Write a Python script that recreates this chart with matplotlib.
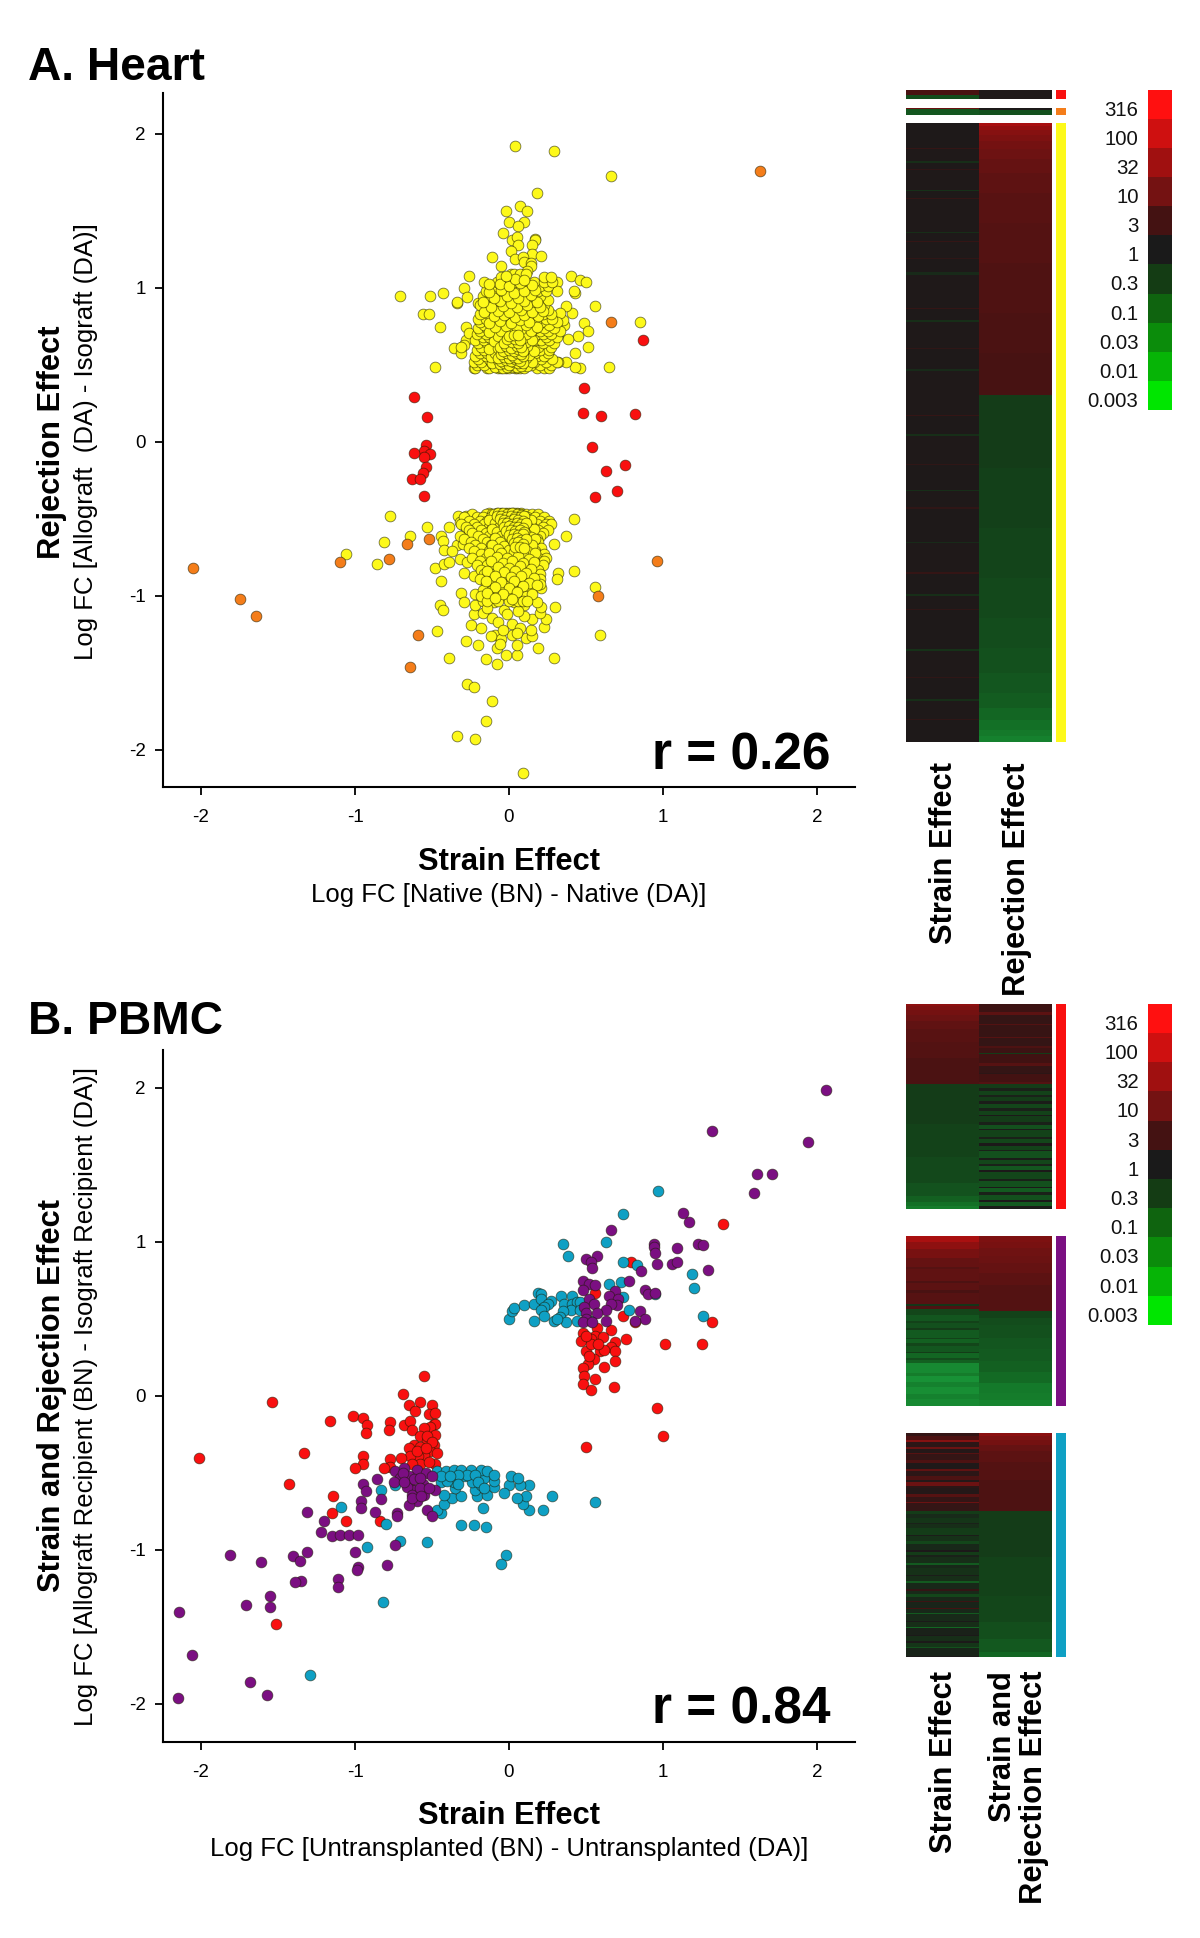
import numpy as np
import matplotlib
matplotlib.use("Agg")
import matplotlib.pyplot as plt
from matplotlib.colors import LinearSegmentedColormap, ListedColormap

plt.rcParams["font.family"] = ["Liberation Sans", "DejaVu Sans"]
plt.rcParams["axes.unicode_minus"] = False

W, H = 1200, 1938

# ---- heart scatter (log FC values)
heart_red = [(0.87, 0.66), (0.49, 0.35), (-0.62, 0.29), (-0.53, 0.16), (0.48, 0.19), (0.60, 0.17), (0.82, 0.18),
             (-0.54, -0.02), (-0.55, -0.06), (-0.51, -0.08), (-0.55, -0.10), (-0.62, -0.07), (-0.54, -0.16),
             (-0.56, -0.20), (-0.63, -0.24), (-0.58, -0.24), (-0.55, -0.35), (0.54, -0.03), (0.63, -0.19),
             (0.75, -0.15), (0.70, -0.32), (0.56, -0.36)]
heart_orange = [(1.63, 1.76), (0.66, 0.78), (-1.10, -0.78), (-0.78, -0.76), (-0.66, -0.66), (-0.52, -0.63),
                (0.96, -0.77), (0.58, -1.00), (-0.59, -1.25), (-0.64, -1.46), (-2.05, -0.82), (-1.75, -1.02),
                (-1.64, -1.13)]
heart_yellow_upper = [(0.04, 1.92), (0.29, 1.89), (0.66, 1.73), (0.18, 1.62), (-0.02, 1.50), (0.07, 1.53), (0.12, 1.50),
                      (0.0, 1.43), (0.10, 1.43), (0.06, 1.40), (-0.04, 1.36), (0.02, 1.31), (0.05, 1.33), (0.17, 1.32),
                      (0.17, 1.31), (0.06, 1.28), (0.15, 1.28), (0.01, 1.24), (0.15, 1.22), (0.21, 1.21), (-0.11, 1.20),
                      (0.04, 1.19), (0.09, 1.20), (0.10, 1.17), (-0.05, 1.14), (0.14, 1.16), (0.14, 1.14), (0.12, 1.11),
                      (-0.26, 1.08), (0.40, 1.08), (0.46, 1.05), (0.50, 1.04), (0.31, 1.04), (-0.71, 0.95), (-0.51, 0.95),
                      (-0.43, 0.97), (-0.29, 1.00), (-0.27, 0.94), (-0.34, 0.90), (-0.34, 0.91), (-0.20, 0.90),
                      (-0.56, 0.83), (-0.52, 0.83), (-0.45, 0.75), (-0.28, 0.75), (0.56, 0.88), (0.41, 0.84), (0.37, 0.88),
                      (0.31, 0.98), (0.43, 0.97), (0.42, 0.98), (0.49, 0.77), (0.51, 0.72), (0.45, 0.69), (0.38, 0.67),
                      (0.51, 0.62), (0.43, 0.58), (0.85, 0.78), (0.65, 0.49), (0.46, 0.48), (0.43, 0.49), (0.37, 0.52),
                      (0.32, 0.52), (-0.48, 0.49), (-0.36, 0.61), (-0.31, 0.58), (-0.28, 0.66), (-0.26, 0.71), (-0.23, 0.48),
                      (-0.29, 0.63), (-0.31, 0.62), (0.36, 0.76), (0.35, 0.79), (0.32, 0.70), (0.33, 0.84)]
heart_up_core = {
    0.48: [-0.22, -0.14, -0.13, -0.07, -0.05, -0.02, 0.0, 0.04, 0.05, 0.07, 0.10, 0.18, 0.23, 0.26],
    0.50: [-0.21, -0.16, -0.10, -0.06, -0.04, -0.01, 0.01, 0.03, 0.06, 0.08, 0.11, 0.14, 0.20, 0.27],
    0.52: [-0.23, -0.18, -0.12, -0.08, -0.03, -0.02, 0.0, 0.02, 0.04, 0.05, 0.09, 0.12, 0.16, 0.24, 0.31],
    0.54: [-0.20, -0.13, -0.09, -0.05, -0.03, 0.0, 0.01, 0.03, 0.05, 0.07, 0.10, 0.15, 0.21, 0.28],
    0.56: [-0.22, -0.15, -0.11, -0.06, -0.04, -0.02, 0.01, 0.02, 0.04, 0.06, 0.08, 0.12, 0.18, 0.23],
    0.58: [-0.19, -0.14, -0.08, -0.03, -0.01, 0.0, 0.03, 0.05, 0.07, 0.11, 0.14, 0.17, 0.25],
    0.60: [-0.21, -0.16, -0.10, -0.06, -0.02, 0.01, 0.02, 0.05, 0.08, 0.10, 0.13, 0.20, 0.26],
    0.62: [-0.18, -0.12, -0.07, -0.04, -0.01, 0.01, 0.04, 0.06, 0.09, 0.15, 0.19, 0.27],
    0.64: [-0.20, -0.14, -0.09, -0.05, -0.02, 0.0, 0.03, 0.05, 0.10, 0.14, 0.22, 0.29],
    0.66: [-0.22, -0.16, -0.11, -0.06, -0.03, 0.02, 0.04, 0.07, 0.12, 0.17, 0.21, 0.26],
    0.68: [-0.17, -0.13, -0.08, -0.01, 0.01, 0.05, 0.08, 0.11, 0.16, 0.24, 0.31],
    0.70: [-0.21, -0.15, -0.10, -0.04, 0.0, 0.03, 0.06, 0.09, 0.13, 0.18, 0.22, 0.27],
    0.72: [-0.19, -0.12, -0.07, -0.03, 0.02, 0.06, 0.10, 0.15, 0.20, 0.25, 0.33],
    0.74: [-0.20, -0.14, -0.09, -0.05, 0.0, 0.04, 0.08, 0.12, 0.17, 0.23, 0.29],
    0.76: [-0.16, -0.11, -0.06, -0.01, 0.03, 0.07, 0.13, 0.19, 0.26],
    0.78: [-0.19, -0.13, -0.08, -0.03, 0.01, 0.05, 0.10, 0.15, 0.21, 0.31],
    0.80: [-0.20, -0.15, -0.09, -0.04, 0.02, 0.08, 0.12, 0.18, 0.24, 0.28],
    0.83: [-0.19, -0.13, -0.07, -0.02, 0.03, 0.06, 0.11, 0.16, 0.22, 0.27],
    0.86: [-0.16, -0.11, -0.05, 0.01, 0.05, 0.09, 0.14, 0.19, 0.25],
    0.89: [-0.19, -0.08, -0.03, 0.03, 0.08, 0.13, 0.17, 0.23],
    0.92: [-0.14, -0.09, -0.02, 0.03, 0.07, 0.14, 0.21, 0.25],
    0.95: [-0.17, -0.12, -0.05, 0.01, 0.09, 0.16, 0.20],
    0.98: [-0.15, -0.08, -0.02, 0.04, 0.08, 0.11, 0.19, 0.24],
    1.01: [-0.09, -0.04, 0.02, 0.06, 0.13, 0.20, 0.25],
    1.04: [-0.16, -0.08, -0.01, 0.03, 0.08, 0.16, 0.23, 0.28],
    1.07: [-0.05, 0.0, 0.03, 0.09, 0.23, 0.27],
    1.09: [0.01, 0.03, 0.07, 0.11],
}
# second pass over the crowded part of the upper lobe
heart_up_dense = [(-0.09, 0.49), (-0.03, 0.495), (0.02, 0.487), (0.07, 0.505), (0.12, 0.492), (-0.11, 0.515), (-0.04, 0.525),
                  (0.03, 0.513), (0.08, 0.53), (0.15, 0.517), (-0.07, 0.535), (-0.01, 0.545), (0.05, 0.527), (0.11, 0.548),
                  (-0.12, 0.553), (-0.05, 0.567), (0.02, 0.557), (0.06, 0.572), (0.13, 0.563), (-0.09, 0.577), (-0.02, 0.585),
                  (0.04, 0.591), (0.09, 0.583), (0.16, 0.594), (-0.13, 0.605), (-0.07, 0.612), (0.0, 0.603), (0.03, 0.618),
                  (0.07, 0.607), (0.12, 0.622), (-0.03, 0.633), (0.01, 0.645), (0.06, 0.637), (0.11, 0.651), (-0.1, 0.657),
                  (-0.04, 0.668), (0.03, 0.662), (0.09, 0.675), (0.15, 0.664), (-0.07, 0.687), (-0.01, 0.695), (0.05, 0.684),
                  (0.11, 0.703), (-0.13, 0.712), (-0.05, 0.723), (0.02, 0.714), (0.08, 0.731), (0.14, 0.718), (-0.09, 0.745),
                  (-0.02, 0.752), (0.05, 0.742), (0.11, 0.758), (0.18, 0.747), (-0.13, 0.772), (-0.06, 0.785), (0.01, 0.775),
                  (0.07, 0.792), (0.13, 0.781), (-0.1, 0.815), (-0.03, 0.822), (0.04, 0.812), (0.1, 0.827), (0.19, 0.818),
                  (-0.16, 0.845), (-0.07, 0.853), (0.0, 0.842), (0.08, 0.858), (0.15, 0.847), (0.22, 0.852), (-0.12, 0.878),
                  (-0.04, 0.884), (0.05, 0.875), (0.12, 0.889), (0.2, 0.874), (-0.17, 0.908), (-0.06, 0.915), (0.01, 0.905),
                  (0.1, 0.918), (0.18, 0.911), (-0.1, 0.938), (-0.01, 0.947), (0.06, 0.935), (0.14, 0.953), (-0.13, 0.972),
                  (-0.05, 0.985), (0.03, 0.966), (0.1, 0.978), (0.17, 0.989), (-0.06, 1.023), (0.0, 1.015), (0.07, 1.031),
                  (0.15, 1.022), (-0.13, 1.025), (0.04, 1.06), (0.1, 1.055), (-0.02, 1.075)]
# the darkest streak, where the outlines pile up
heart_up_dark = [(-0.04, 0.483), (-0.01, 0.49), (0.02, 0.497), (0.05, 0.486), (0.08, 0.493), (-0.06, 0.507), (-0.03, 0.512),
                 (0.0, 0.503), (0.03, 0.518), (0.06, 0.51), (0.09, 0.516), (-0.05, 0.528), (-0.02, 0.532), (0.01, 0.524),
                 (0.04, 0.536), (0.07, 0.529), (-0.07, 0.548), (-0.03, 0.552), (0.0, 0.544), (0.03, 0.555), (0.06, 0.547),
                 (0.09, 0.558), (-0.05, 0.572), (-0.01, 0.576), (0.02, 0.568), (0.05, 0.579), (0.08, 0.571), (-0.04, 0.594),
                 (0.0, 0.598), (0.03, 0.589), (0.06, 0.601), (0.09, 0.593), (-0.06, 0.618), (-0.02, 0.622), (0.01, 0.613),
                 (0.05, 0.626), (0.08, 0.617), (-0.03, 0.645), (0.02, 0.649), (0.06, 0.642), (-0.01, 0.667), (0.04, 0.671),
                 (0.07, 0.663), (0.0, 0.69), (0.03, 0.698), (0.06, 0.693)]
heart_yellow_lower = [(-0.77, -0.48), (-1.06, -0.73), (-0.81, -0.65), (-0.64, -0.61), (-0.86, -0.79), (-0.53, -0.55),
                      (-0.39, -0.55), (-0.44, -0.61), (-0.43, -0.64), (-0.42, -0.70), (-0.48, -0.82), (-0.42, -0.79),
                      (-0.39, -0.78), (-0.44, -0.90), (-0.45, -1.06), (-0.43, -1.09), (-0.47, -1.23), (-0.31, -0.98),
                      (-0.29, -1.04), (-0.28, -1.29), (-0.20, -1.32), (-0.39, -1.40), (-0.15, -1.41), (-0.08, -1.44),
                      (-0.02, -1.38), (0.05, -1.38), (-0.08, -1.34), (0.05, -1.32), (0.19, -1.34), (0.29, -1.40),
                      (0.59, -1.25), (0.56, -0.94), (0.42, -0.84), (0.32, -0.85), (0.31, -0.89), (0.21, -0.95),
                      (0.30, -1.07), (0.42, -0.50), (0.37, -0.61), (0.29, -0.66), (-0.27, -1.57), (-0.23, -1.59),
                      (-0.11, -1.68), (-0.15, -1.81), (-0.34, -1.91), (-0.22, -1.93), (0.09, -2.15), (0.11, -1.27),
                      (0.15, -1.26), (0.14, -1.22), (0.23, -1.20), (0.24, -1.15), (0.15, -1.15), (0.10, -1.13),
                      (0.20, -1.11), (0.21, -1.07), (0.10, -1.06), (-0.25, -1.19), (-0.18, -1.21), (-0.23, -1.12),
                      (-0.22, -1.06), (-0.22, -0.99), (-0.17, -1.11), (-0.11, -1.14), (-0.07, -1.17), (0.02, -1.18),
                      (-0.09, -1.25), (-0.05, -1.28), (0.02, -1.25), (0.07, -1.21), (0.05, -1.24), (-0.04, -1.22),
                      (-0.03, -1.09), (0.03, -1.04), (-0.10, -1.04), (-0.17, -1.03), (-0.29, -0.85), (-0.23, -0.87),
                      (-0.32, -0.76), (-0.27, -0.78), (-0.34, -0.67), (-0.30, -0.66), (-0.37, -0.71), (-0.33, -0.48),
                      (-0.32, -0.52), (-0.28, -0.48), (-0.30, -0.54), (-0.26, -0.59), (-0.14, -1.08), (-0.01, -1.12),
                      (0.06, -1.10), (0.13, -1.01), (0.18, -1.04), (-0.12, -1.26), (-0.06, -1.31)]
heart_low_core = {
    -0.46: [-0.13, -0.08, -0.05, -0.02, 0.0, 0.02, 0.05, 0.08],
    -0.47: [-0.24, -0.15, -0.11, -0.06, -0.03, 0.01, 0.04, 0.07, 0.11, 0.15, 0.19],
    -0.49: [-0.29, -0.21, -0.17, -0.12, -0.08, -0.04, -0.01, 0.02, 0.04, 0.06, 0.09, 0.12, 0.17, 0.23],
    -0.51: [-0.26, -0.19, -0.14, -0.09, -0.06, -0.03, 0.0, 0.03, 0.05, 0.08, 0.10, 0.14, 0.20, 0.26],
    -0.53: [-0.31, -0.23, -0.16, -0.11, -0.07, -0.04, -0.01, 0.01, 0.04, 0.06, 0.09, 0.13, 0.18, 0.24, 0.27],
    -0.55: [-0.28, -0.21, -0.13, -0.08, -0.05, -0.02, 0.0, 0.03, 0.05, 0.07, 0.11, 0.15, 0.22],
    -0.57: [-0.26, -0.18, -0.12, -0.09, -0.06, -0.03, 0.01, 0.02, 0.04, 0.07, 0.10, 0.13, 0.19, 0.25],
    -0.59: [-0.24, -0.15, -0.10, -0.07, -0.04, -0.01, 0.01, 0.03, 0.06, 0.08, 0.12, 0.16, 0.22],
    -0.61: [-0.32, -0.20, -0.13, -0.08, -0.05, -0.02, 0.0, 0.03, 0.05, 0.08, 0.11, 0.15, 0.20],
    -0.63: [-0.29, -0.17, -0.10, -0.07, -0.03, 0.0, 0.02, 0.05, 0.07, 0.10, 0.14, 0.18],
    -0.65: [-0.25, -0.14, -0.09, -0.05, -0.02, 0.01, 0.04, 0.06, 0.09, 0.13, 0.19],
    -0.67: [-0.22, -0.12, -0.07, -0.04, 0.0, 0.03, 0.05, 0.08, 0.11, 0.16],
    -0.69: [-0.26, -0.18, -0.09, -0.06, -0.01, 0.02, 0.05, 0.09, 0.13, 0.21],
    -0.71: [-0.23, -0.13, -0.08, -0.03, 0.01, 0.04, 0.07, 0.11, 0.17],
    -0.73: [-0.18, -0.10, -0.06, -0.01, 0.03, 0.06, 0.10, 0.15, 0.23],
    -0.75: [-0.24, -0.15, -0.08, -0.03, 0.02, 0.05, 0.08, 0.13, 0.19, 0.24],
    -0.77: [-0.19, -0.11, -0.05, 0.0, 0.04, 0.07, 0.11, 0.16, 0.23],
    -0.80: [-0.21, -0.14, -0.08, -0.02, 0.03, 0.06, 0.10, 0.17, 0.22],
    -0.83: [-0.18, -0.11, -0.05, 0.0, 0.05, 0.09, 0.14, 0.19],
    -0.86: [-0.16, -0.12, -0.07, -0.02, 0.04, 0.08, 0.13, 0.20],
    -0.89: [-0.19, -0.13, -0.08, -0.03, 0.02, 0.07, 0.12, 0.17, 0.20],
    -0.92: [-0.15, -0.09, -0.04, 0.01, 0.05, 0.10, 0.15, 0.20],
    -0.96: [-0.17, -0.11, -0.06, 0.0, 0.03, 0.08, 0.13],
    -1.00: [-0.18, -0.13, -0.07, -0.02, 0.02, 0.06, 0.11],
    -1.03: [-0.14, -0.07, 0.0, 0.06, 0.09],
}
# second pass over the crowded part of the lower lobe
heart_low_dense = [(-0.1, -0.465), (-0.04, -0.472), (0.03, -0.463), (0.09, -0.478), (-0.07, -0.485), (0.0, -0.495), (0.05, -0.483),
                   (0.12, -0.497), (-0.13, -0.505), (-0.05, -0.513), (0.02, -0.505), (0.07, -0.521), (0.14, -0.507),
                   (-0.09, -0.527), (-0.02, -0.535), (0.04, -0.522), (0.11, -0.538), (-0.06, -0.547), (0.01, -0.558),
                   (0.06, -0.543), (0.13, -0.556), (-0.11, -0.565), (-0.03, -0.573), (0.03, -0.565), (0.09, -0.578),
                   (0.16, -0.568), (-0.08, -0.587), (-0.01, -0.595), (0.05, -0.584), (0.11, -0.597), (-0.05, -0.608),
                   (0.02, -0.615), (0.07, -0.603), (0.14, -0.617), (-0.09, -0.625), (-0.02, -0.633), (0.04, -0.626),
                   (0.09, -0.638), (0.17, -0.628), (-0.06, -0.647), (0.01, -0.655), (0.06, -0.644), (0.12, -0.657),
                   (-0.11, -0.668), (-0.03, -0.675), (0.03, -0.664), (0.09, -0.682), (0.15, -0.672), (-0.07, -0.695),
                   (0.0, -0.703), (0.07, -0.692), (0.12, -0.708), (-0.13, -0.718), (-0.05, -0.724), (0.03, -0.715),
                   (0.09, -0.732), (0.17, -0.722), (-0.08, -0.745), (-0.01, -0.754), (0.06, -0.743), (0.13, -0.758),
                   (-0.12, -0.775), (-0.04, -0.783), (0.02, -0.772), (0.09, -0.788), (0.16, -0.778), (-0.07, -0.812),
                   (0.0, -0.818), (0.07, -0.808), (0.14, -0.822), (-0.14, -0.838), (-0.03, -0.846), (0.04, -0.835),
                   (0.11, -0.851), (-0.09, -0.872), (0.01, -0.878), (0.08, -0.867), (0.16, -0.882), (-0.15, -0.905),
                   (-0.05, -0.912), (0.03, -0.902), (0.13, -0.916), (-0.09, -0.942), (0.0, -0.951), (0.09, -0.938),
                   (0.18, -0.93), (-0.14, -0.978), (-0.04, -0.985), (0.05, -0.972), (0.15, -0.99), (-0.09, -1.015),
                   (0.02, -1.02), (0.12, -1.03)]
heart_low_dark = [(-0.07, -0.458), (-0.04, -0.463), (-0.01, -0.468), (0.02, -0.46), (0.05, -0.466), (0.08, -0.472), (-0.08, -0.478),
                  (-0.05, -0.483), (-0.02, -0.488), (0.01, -0.48), (0.04, -0.486), (0.07, -0.49), (0.1, -0.483), (-0.06, -0.503),
                  (-0.03, -0.507), (0.0, -0.51), (0.03, -0.502), (0.06, -0.508), (0.09, -0.512), (-0.04, -0.527), (-0.01, -0.523),
                  (0.02, -0.53), (0.05, -0.525), (0.08, -0.532), (0.11, -0.526), (-0.03, -0.552), (0.0, -0.546), (0.03, -0.555),
                  (0.06, -0.549), (0.09, -0.556), (-0.02, -0.578), (0.01, -0.572), (0.04, -0.58), (0.07, -0.574), (0.1, -0.582),
                  (0.0, -0.605), (0.03, -0.598), (0.06, -0.607), (0.09, -0.6), (0.02, -0.632), (0.05, -0.625), (0.08, -0.635),
                  (0.11, -0.628), (0.03, -0.658), (0.06, -0.652), (0.09, -0.66), (0.04, -0.685), (0.07, -0.679), (0.1, -0.69)]

# ---- PBMC scatter
pbmc_red = [(1.39, 1.12), (0.79, 0.87), (0.56, 0.67), (0.74, 0.52), (0.82, 0.48), (1.32, 0.48), (1.01, 0.34), (1.25, 0.34),
            (0.76, 0.37), (0.66, 0.43), (0.57, 0.44), (0.48, 0.41), (0.47, 0.36), (0.56, 0.39), (0.61, 0.38), (0.53, 0.37),
            (0.69, 0.35), (0.66, 0.32), (0.50, 0.29), (0.69, 0.29), (0.59, 0.29), (0.62, 0.30), (0.55, 0.24), (0.69, 0.23),
            (0.51, 0.21), (0.48, 0.18), (0.62, 0.19), (0.49, 0.13), (0.56, 0.11), (0.48, 0.08), (0.53, 0.04), (0.68, 0.06),
            (0.53, 0.34), (0.58, 0.34), (0.50, 0.39), (0.52, 0.26), (0.50, -0.33), (0.96, -0.08), (1.00, -0.26),
            (-0.55, 0.13), (-1.54, -0.04), (-0.69, 0.01), (-0.65, -0.06), (-0.58, -0.04), (-0.50, -0.06), (-0.61, -0.10),
            (-0.52, -0.12), (-0.48, -0.11), (-1.01, -0.13), (-0.95, -0.14), (-0.92, -0.19), (-0.93, -0.24), (-1.16, -0.16),
            (-0.77, -0.17), (-0.78, -0.22), (-0.68, -0.19), (-0.64, -0.16), (-0.63, -0.22), (-0.49, -0.18), (-0.48, -0.18),
            (-0.51, -0.20), (-0.55, -0.21), (-0.48, -0.25), (-0.58, -0.26), (-0.53, -0.29), (-0.49, -0.32), (-0.62, -0.32),
            (-0.65, -0.34), (-0.58, -0.33), (-0.51, -0.36), (-0.55, -0.38), (-0.59, -0.39), (-0.64, -0.39), (-0.70, -0.40),
            (-0.77, -0.41), (-0.48, -0.44), (-0.58, -0.44), (-0.52, -0.43), (-0.63, -0.44), (-0.77, -0.46), (-0.81, -0.47),
            (-2.01, -0.40), (-1.33, -0.37), (-0.95, -0.39), (-0.95, -0.44), (-1.00, -0.47), (-1.43, -0.57), (-1.14, -0.65),
            (-1.15, -0.76), (-1.06, -0.81), (-0.84, -0.81), (-1.51, -1.48), (-0.53, -0.26), (-0.60, -0.36), (-0.50, -0.30),
            (-0.54, -0.34), (-0.47, -0.37)]
pbmc_teal = [(0.97, 1.33), (0.74, 1.18), (0.35, 0.99), (0.63, 1.00), (0.38, 0.91), (0.74, 0.87), (0.83, 0.85), (1.19, 0.79),
             (1.20, 0.70), (1.26, 0.52), (0.65, 0.73), (0.73, 0.74), (0.74, 0.64), (0.78, 0.56), (0.95, 0.66), (0.00, 0.50),
             (0.02, 0.55), (0.03, 0.57), (0.10, 0.59), (0.16, 0.60), (0.16, 0.49), (0.19, 0.67), (0.21, 0.66), (0.21, 0.63),
             (0.27, 0.62), (0.25, 0.60), (0.23, 0.58), (0.21, 0.56), (0.23, 0.52), (0.29, 0.49), (0.34, 0.65), (0.41, 0.65),
             (0.36, 0.60), (0.41, 0.60), (0.44, 0.61), (0.40, 0.56), (0.35, 0.55), (0.33, 0.51), (0.37, 0.48), (0.44, 0.49),
             (0.46, 0.61), (0.53, 0.49), (0.46, 0.56), (0.31, 0.50),
             (-0.83, -0.61), (-0.74, -0.58), (-1.09, -0.72), (-0.80, -0.83), (-0.71, -0.94), (-0.92, -0.98), (-0.53, -0.95),
             (-0.82, -1.34), (-1.29, -1.81), (-0.31, -0.84), (-0.23, -0.84), (-0.15, -0.85), (-0.02, -1.03), (-0.05, -1.09),
             (0.56, -0.69), (0.28, -0.65), (0.22, -0.74), (0.13, -0.74), (0.09, -0.70), (0.11, -0.65), (0.05, -0.66),
             (0.13, -0.58), (0.07, -0.58), (0.00, -0.58), (-0.03, -0.63), (0.01, -0.52), (0.06, -0.53), (-0.17, -0.73),
             (-0.44, -0.76), (-0.47, -0.74), (-0.42, -0.70), (-0.37, -0.66), (-0.31, -0.65), (-0.21, -0.65), (-0.14, -0.64),
             (-0.10, -0.59), (-0.42, -0.64), (-0.35, -0.60), (-0.22, -0.61), (-0.18, -0.58), (-0.24, -0.56), (-0.44, -0.56),
             (-0.36, -0.56), (-0.29, -0.52), (-0.10, -0.55), (-0.16, -0.53), (-0.40, -0.55), (-0.47, -0.49), (-0.41, -0.49),
             (-0.36, -0.48), (-0.31, -0.48), (-0.25, -0.48), (-0.18, -0.48), (-0.14, -0.49), (-0.10, -0.51), (-0.27, -0.51),
             (-0.33, -0.51), (-0.44, -0.52), (-0.38, -0.52), (-0.22, -0.51), (-0.20, -0.56), (-0.33, -0.57), (-0.16, -0.60)]
pbmc_purple = [(2.06, 1.99), (1.32, 1.72), (1.94, 1.65), (1.61, 1.44), (1.71, 1.44), (1.59, 1.32), (1.13, 1.19), (1.17, 1.13),
               (0.66, 1.08), (0.94, 0.99), (0.94, 0.97), (0.95, 0.93), (1.09, 0.96), (1.23, 0.99), (1.26, 0.98), (0.96, 0.86),
               (1.06, 0.86), (1.09, 0.87), (1.29, 0.82), (0.50, 0.89), (0.57, 0.91), (0.53, 0.87), (0.54, 0.83), (0.86, 0.81),
               (0.78, 0.75), (0.48, 0.75), (0.52, 0.73), (0.56, 0.72), (0.48, 0.69), (0.88, 0.69), (0.90, 0.66), (0.95, 0.67),
               (0.69, 0.68), (0.65, 0.65), (0.52, 0.63), (0.71, 0.63), (0.55, 0.60), (0.70, 0.59), (0.66, 0.60), (0.49, 0.58),
               (0.63, 0.56), (0.50, 0.54), (0.57, 0.54), (0.85, 0.55), (0.50, 0.50), (0.63, 0.49), (0.48, 0.48), (0.88, 0.50),
               (0.82, 0.49), (0.54, 0.48),
               (-0.74, -0.49), (-0.68, -0.47), (-0.60, -0.48), (-0.54, -0.50), (-0.50, -0.52), (-0.71, -0.53), (-0.65, -0.52),
               (-0.75, -0.56), (-0.86, -0.54), (-0.95, -0.57), (-0.93, -0.62), (-0.65, -0.58), (-0.56, -0.57), (-0.61, -0.61),
               (-0.66, -0.59), (-0.48, -0.61), (-0.55, -0.64), (-0.63, -0.64), (-0.83, -0.67), (-0.96, -0.68), (-0.60, -0.68),
               (-0.65, -0.71), (-0.96, -0.73), (-0.87, -0.75), (-1.31, -0.75), (-0.73, -0.76), (-0.73, -0.78), (-0.53, -0.74),
               (-0.50, -0.78), (-1.20, -0.81), (-1.22, -0.88), (-1.15, -0.91), (-1.10, -0.90), (-1.04, -0.90), (-0.98, -0.90),
               (-0.74, -0.97), (-1.00, -1.01), (-1.31, -1.01), (-1.81, -1.03), (-1.40, -1.04), (-1.36, -1.07), (-1.61, -1.08),
               (-0.98, -1.11), (-0.99, -1.13), (-0.79, -1.10), (-1.11, -1.19), (-1.35, -1.20), (-1.39, -1.21), (-1.11, -1.24),
               (-1.55, -1.30), (-1.71, -1.36), (-1.55, -1.37), (-2.14, -1.40), (-2.06, -1.68), (-1.68, -1.86), (-1.57, -1.94),
               (-2.15, -1.96), (-0.69, -0.50), (-0.62, -0.54), (-0.58, -0.53), (-0.68, -0.56), (-0.58, -0.60), (-0.52, -0.60),
               (-0.63, -0.66), (-0.57, -0.65)]

# ---- heatmaps: (row count, log10 FC) per column, top row first
cbar_labels = ["316", "100", "32", "10", "3", "1", "0.3", "0.1", "0.03", "0.01", "0.003"]
cbar_levels = [2.5, 2.0, 1.5, 1.0, 0.5, 0.0, -0.5, -1.0, -1.5, -2.0, -2.5]
cbar_colors = ["#ff1010", "#cf1010", "#a01010", "#741212", "#441212", "#1a1a1a",
               "#143c14", "#0f640f", "#0b8c0b", "#06b406", "#00e600"]
# the green side of the heatmaps themselves runs a little bluer than the key
heat_colors = ["#ff1010", "#cf1010", "#a01010", "#741212", "#441212", "#1c1a1a",
               "#143c18", "#137026", "#1a9a3a", "#10b830", "#00e600"]

heart_red_s = ([5, 4], [0.55, -0.65])
heart_red_r = ([9], [0.05])
heart_orange_s = ([1, 6], [0.9, -0.75])
heart_orange_r = ([2, 5], [0.0, -0.7])
heart_yellow_s = ([22, 1, 11, 2, 5, 1, 18, 1, 6, 1, 30, 1, 7, 1, 14, 1, 12, 2, 30, 1, 10, 1, 24, 1, 18, 1, 40, 1, 16, 2, 25,
                   1, 22, 1, 14, 2, 30, 1, 26, 1, 18, 2, 12, 1, 35, 1, 24, 1, 18, 2, 16, 1, 20],
                  [0.03, 0.3, 0.04, -0.3, 0.03, 0.25, 0.04, -0.35, 0.03, 0.3, 0.04, -0.3, 0.03, 0.3, 0.04, 0.25, 0.03, -0.25,
                   0.04, 0.3, 0.03, -0.3, 0.04, 0.25, 0.03, -0.25, 0.04, 0.3, 0.03, -0.3, 0.04, 0.25, 0.03, -0.3, 0.04, 0.25,
                   0.03, -0.25, 0.04, 0.3, 0.03, -0.3, 0.04, 0.25, 0.03, -0.35, 0.04, 0.25, 0.03, -0.3, 0.04, 0.25, 0.03])
heart_yellow_r = ([3, 4, 5, 6, 8, 10, 14, 20, 30, 40, 50, 40, 42, 72, 60, 50, 40, 30, 25, 20, 15, 12, 10, 6, 6],
                  [1.6, 1.4, 1.2, 1.1, 1.0, 0.92, 0.85, 0.78, 0.72, 0.67, 0.62, 0.58, 0.54,
                   -0.5, -0.54, -0.58, -0.62, -0.66, -0.7, -0.75, -0.82, -0.9, -1.0, -1.1, -1.2])

pbmc_a_s = ([2, 3, 4, 5, 6, 10, 12, 20, 30, 25, 20, 10, 5, 3, 2],
            [1.3, 1.15, 1.0, 0.9, 0.8, 0.72, 0.65, 0.58, -0.5, -0.55, -0.62, -0.72, -0.85, -1.0, -1.15])
pbmc_a_r = ([7, 2, 7, 1, 9, 1, 6, 1, 4, 1, 7, 2, 5, 1, 6, 2, 3, 2, 3, 2, 3, 2, 3, 2, 3, 1, 5, 2, 3, 1, 5, 2, 3, 2, 3, 1, 5, 2,
             3, 1, 3, 2, 5, 2, 4, 1, 3, 2, 4, 2, 3, 2],
            [0.4, 0.75, 0.3, 0.65, 0.35, 0.7, 0.3, 0.6, 0.4, -0.5, 0.45, 0.7, 0.3, 0.2, 0.5, 0.65,
             -0.5, -0.1, -0.55, -0.1, -0.5, -0.05, -0.6, -0.1, -0.55, 0.0, -0.5, -0.1, -0.7, -0.05, -0.55, -0.1,
             -0.6, 0.0, -0.55, -0.1, -0.7, -0.05, -0.6, -0.1, -0.75, 0.0, -0.6, -0.1, -0.7, 0.0, -0.8, -0.1, -0.7,
             0.0, -0.8, -0.05])
pbmc_b_s = ([5, 6, 8, 7, 2, 10, 2, 6, 2, 10, 1, 3, 5, 5, 2, 4, 2, 6, 1, 4, 2, 5, 1, 4, 2, 3, 8, 3, 5, 4, 6, 4, 6],
            [1.6, 1.3, 1.05, 0.85, 0.7, 0.8, 0.6, 0.75, 0.55, 0.7, -0.4, 0.6, -0.6, -0.75, -0.55, -0.7, -0.5, -0.8, -0.55,
             -0.85, -0.6, -0.75, -0.5, -0.9, -0.65, -0.85, -1.3, -1.15, -1.4, -1.2, -1.35, -1.2, -1.3])
pbmc_b_r = ([5, 5, 6, 6, 8, 10, 21, 6, 6, 10, 9, 10, 9, 9, 8, 6, 5],
            [1.1, 1.05, 0.95, 0.9, 0.85, 0.75, 0.65, -0.55, -0.65, -0.7, -0.75, -0.8, -0.85, -0.95, -1.1, -1.15, -1.25])
pbmc_c_s = ([2, 3, 2, 4, 1, 3, 1, 5, 2, 5, 1, 4, 3, 2, 3, 1, 5, 2, 4, 1, 6, 2, 3, 4, 1, 3, 5, 1, 4, 2, 5, 1, 3, 1, 5, 1, 3, 5,
             1, 4, 1, 5, 1, 3, 2, 3, 1, 4, 1, 3, 1, 5, 1, 4, 1, 5, 1, 4, 1, 3, 1, 6, 1],
            [0.3, 0.6, 1.2, 0.2, 0.9, 0.1, 0.7, 0.3, 0.6, 0.05, 0.8, 0.2, 0.6, 0.1, 0.9, 0.2, 0.1, 0.7, 0.3, 0.9,
             0.3, -0.5, -0.25, -0.4, -0.1, -0.3, -0.5, -0.05, -0.35, -0.6, -0.2, 0.0, -0.5, -0.1, -0.3, -0.8, -0.2,
             -0.35, -0.05, -0.3, -0.8, -0.2, 0.3, -0.25, -0.6, -0.2, 0.4, -0.15, 0.5, -0.2, -0.8, -0.25, 0.0, -0.3,
             -0.9, -0.1, 0.0, -0.3, 0.0, -0.4, -0.7, -0.15, 0.0])
pbmc_c_r = ([2, 3, 4, 5, 8, 14, 24, 35, 30, 20, 13, 10, 4],
            [1.25, 1.1, 1.0, 0.85, 0.75, 0.68, 0.6, -0.5, -0.55, -0.6, -0.68, -0.78, -0.9])

RED, ORANGE, YELLOW, PURPLE, TEAL = "#f91010", "#f47d1a", "#fdf91a", "#7b0f82", "#0fa0c4"
heat_cmap = LinearSegmentedColormap.from_list("fc", list(zip(np.linspace(0, 1, 11), heat_colors[::-1])))


def px_axes(fig, x0, y0, x1, y1):
    return fig.add_axes([x0 / W, 1 - y1 / H, (x1 - x0) / W, (y1 - y0) / H])


def put_text(fig, x, y, s, **kw):
    fig.text(x / W, 1 - y / H, s, **kw)


def core_points(rows):
    return [(x, y) for y, xs in rows.items() for x in xs]


def scatter_group(ax, pts, color):
    xs, ys = np.array(pts).T
    ax.scatter(xs, ys, s=60, c=color, edgecolors=(0.1, 0.1, 0, 0.6), linewidths=0.6, clip_on=False)


def scatter_axes(fig, y_top, y_bottom, y_zero):
    ax = px_axes(fig, 163, y_top, 855, y_bottom)
    ax.set_xlim((163 - 509) / 154, (855 - 509) / 154)
    ax.set_ylim((y_zero - y_bottom) / 154, (y_zero - y_top) / 154)
    ax.set_xticks([-2, -1, 0, 1, 2])
    ax.set_yticks([-2, -1, 0, 1, 2])
    ax.tick_params(labelsize=13.5, length=5.5, width=1.3)
    ax.tick_params(axis="x", pad=10)
    ax.tick_params(axis="y", pad=7)
    for side in ("top", "right"):
        ax.spines[side].set_visible(False)
    for side in ("left", "bottom"):
        ax.spines[side].set_linewidth(1.5)
    return ax


def draw_heat_block(fig, y0, y1, col1, col2, side_color):
    ax = px_axes(fig, 906, y0, 1052, y1)
    for i, (counts, vals) in enumerate((col1, col2)):
        rows = np.repeat(vals, counts).reshape(-1, 1)
        ax.imshow(rows, cmap=heat_cmap, vmin=-2.5, vmax=2.5, aspect="auto",
                  extent=[i, i + 1, 1, 0], interpolation="nearest")
    ax.set_xlim(0, 2)
    ax.set_ylim(1, 0)
    ax.axis("off")
    bar = px_axes(fig, 1056, y0, 1066, y1)
    bar.set_facecolor(side_color)
    bar.set_xticks([])
    bar.set_yticks([])
    for sp in bar.spines.values():
        sp.set_visible(False)


def draw_colorbar(fig, y0, y1, label_offset):
    ax = px_axes(fig, 1148, y0, 1172, y1)
    ax.imshow(np.array(cbar_levels).reshape(-1, 1), cmap=ListedColormap(cbar_colors[::-1]),
              vmin=-2.75, vmax=2.75, aspect="auto", interpolation="nearest")
    ax.set_xticks([])
    ax.set_yticks([])
    for sp in ax.spines.values():
        sp.set_visible(False)
    for i, lab in enumerate(cbar_labels):
        ax.text(-0.5 - 9.5 / 24, i + label_offset, lab, ha="right", va="center", fontsize=14.7, color="#111111")


def main():
    fig = plt.figure(figsize=(W / 100, H / 100), dpi=100, facecolor="white")

    # A. Heart
    ax = scatter_axes(fig, 93, 787, 442)
    scatter_group(ax, heart_yellow_upper + core_points(heart_up_core) + heart_up_dense + heart_up_dark
                  + heart_yellow_lower + core_points(heart_low_core) + heart_low_dense + heart_low_dark, YELLOW)
    scatter_group(ax, heart_orange, ORANGE)
    scatter_group(ax, heart_red, RED)

    # B. PBMC
    bx = scatter_axes(fig, 1050, 1742, 1396)
    scatter_group(bx, pbmc_red, RED)
    scatter_group(bx, pbmc_teal, TEAL)
    scatter_group(bx, pbmc_purple, PURPLE)

    put_text(fig, 28, 80, "A. Heart", fontsize=33.2, fontweight="bold", ha="left", va="baseline")
    put_text(fig, 28, 1034, "B. PBMC", fontsize=33.2, fontweight="bold", ha="left", va="baseline")
    put_text(fig, 830, 769, "r = 0.26", fontsize=37, fontweight="bold", ha="right", va="baseline")
    put_text(fig, 830, 1724, "r = 0.84", fontsize=37, fontweight="bold", ha="right", va="baseline")

    bold = dict(fontsize=22.2, fontweight="bold", ha="center", va="baseline")
    reg = dict(fontsize=18.5, ha="center", va="baseline")
    put_text(fig, 509, 870, "Strain Effect", **bold)
    put_text(fig, 509, 902, "Log FC [Native (BN) - Native (DA)]", **reg)
    put_text(fig, 509, 1824, "Strain Effect", **bold)
    put_text(fig, 509, 1856, "Log FC [Untransplanted (BN) - Untransplanted (DA)]", **reg)

    rot = dict(rotation=90, ha="center", va="center")
    put_text(fig, 52, 442, "Rejection Effect", fontsize=22.2, fontweight="bold", **rot)
    put_text(fig, 86, 442, "Log FC [Allograft  (DA) - Isograft (DA)]", fontsize=18.5, **rot)
    put_text(fig, 52, 1396, "Strain and Rejection Effect", fontsize=22.2, fontweight="bold", **rot)
    put_text(fig, 86, 1396, "Log FC [Allograft Recipient (BN) - Isograft Recipient (DA)]", fontsize=18.5, **rot)

    # heatmaps
    draw_heat_block(fig, 90, 99, heart_red_s, heart_red_r, RED)
    draw_heat_block(fig, 108, 115, heart_orange_s, heart_orange_r, ORANGE)
    draw_heat_block(fig, 123, 742, heart_yellow_s, heart_yellow_r, YELLOW)
    draw_heat_block(fig, 1004, 1209, pbmc_a_s, pbmc_a_r, RED)
    draw_heat_block(fig, 1236, 1406, pbmc_b_s, pbmc_b_r, PURPLE)
    draw_heat_block(fig, 1433, 1657, pbmc_c_s, pbmc_c_r, TEAL)
    draw_colorbar(fig, 90, 410, 0.2)
    draw_colorbar(fig, 1004, 1325, 0.2)

    col = dict(rotation=90, fontsize=22.2, fontweight="bold", ha="center", va="top")
    put_text(fig, 944, 762, "Strain Effect", **col)
    put_text(fig, 1017, 762, "Rejection Effect", **col)
    put_text(fig, 944, 1671, "Strain Effect", **col)
    put_text(fig, 1003, 1671, "Strain and", **col)
    put_text(fig, 1034, 1671, "Rejection Effect", **col)

    fig.savefig("out.png", dpi=100)


if __name__ == "__main__":
    main()
